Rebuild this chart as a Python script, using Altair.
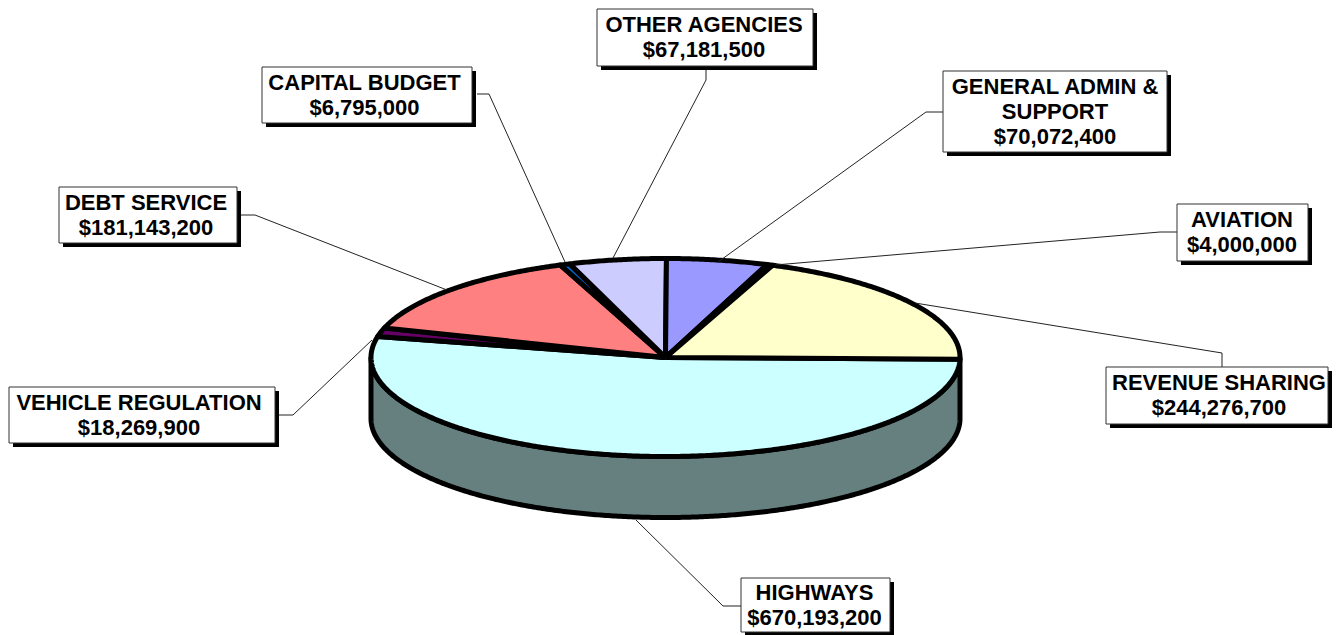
import numpy as np
import pandas as pd
import altair as alt

# ---- data ----
names = ["HIGHWAYS", "VEHICLE REGULATION", "DEBT SERVICE", "CAPITAL BUDGET",
         "OTHER AGENCIES", "GENERAL ADMIN & SUPPORT", "AVIATION", "REVENUE SHARING"]
values = [670193200, 18269900, 181143200, 6795000,
          67181500, 70072400, 4000000, 244276700]
amounts = ["$670,193,200", "$18,269,900", "$181,143,200", "$6,795,000",
           "$67,181,500", "$70,072,400", "$4,000,000", "$244,276,700"]
colors = ["#CCFFFF", "#660066", "#FF8080", "#0066CC",
          "#CCCCFF", "#9999FF", "#993366", "#FFFFCC"]
label_lines = [["HIGHWAYS"], ["VEHICLE REGULATION"], ["DEBT SERVICE"], ["CAPITAL BUDGET"],
               ["OTHER AGENCIES"], ["GENERAL ADMIN &", "SUPPORT"], ["AVIATION"], ["REVENUE SHARING"]]

# ---- layout of the picture, in page pixels ----
CX, CY, RX, RY, DEPTH = 665.5, 357.5, 294.5, 99, 61
START = 1.0
SIDE = "#668080"
# left, top, right, bottom of each label box
boxes = [(741, 578, 890, 632), (9, 387, 275, 443), (59, 187, 237, 243), (262, 67, 472, 123),
         (597, 9, 813, 66), (943, 71, 1167, 152), (1177, 204, 1308, 261), (1106, 367, 1328, 424)]
text_cx = [814.5, 139, 146, 364.5, 704, 1055, 1242, 1219]
leaders = [[(741, 606), (723, 606), (636, 520)],
           [(279, 415), (293, 415), (372, 340)],
           [(241, 215), (255, 215), (447, 290)],
           [(477, 94), (489, 94), (565, 262)],
           [(706, 69), (706, 80), (613, 258)],
           [(943, 112), (926, 112), (718, 262)],
           [(1177, 232), (1160, 232), (775, 265)],
           [(1222, 367), (1222, 353), (915, 303)]]
FONT_SIZE, LINE_H = 22, 25

W, H = 1324, 627
X = alt.Scale(domain=[8, 8 + W], range=[0, W], nice=False, zero=False)
Y = alt.Scale(domain=[8 + H, 8], range=[H, 0], nice=False, zero=False)
xe = lambda f="x": alt.X(f"{f}:Q", scale=X, axis=None)
ye = lambda f="y": alt.Y(f"{f}:Q", scale=Y, axis=None)


def ring(a0, a1, dy=0.0):
    n = max(2, int(abs(a1 - a0)) * 2 + 2)
    t = np.radians(np.linspace(a0, a1, n))
    return list(zip(CX + RX * np.cos(t), CY + RY * np.sin(t) + dy))


def poly(points, color, sw):
    pts = list(points) + [points[0]]
    d = pd.DataFrame({"x": [p[0] for p in pts], "y": [p[1] for p in pts], "i": range(len(pts))})
    return alt.Chart(d).mark_line(fill=color, stroke="black", strokeWidth=sw,
                                  strokeJoin="round", clip=False).encode(
        x=xe(), y=ye(), order="i:Q")


# angles run clockwise on screen from 3 o'clock
angles = START + np.concatenate([[0], np.cumsum(values) / np.sum(values) * 360])
layers = []

# side wall below the front of the disc
layers.append(poly(ring(0, 180) + ring(180, 0, DEPTH), SIDE, 5))

# top faces (Highways first, the rest over it)
for k in range(len(values)):
    layers.append(poly([(CX, CY)] + ring(angles[k], angles[k + 1]), colors[k], 5))

# leader lines
for pts in leaders:
    d = pd.DataFrame({"x": [p[0] for p in pts], "y": [p[1] for p in pts], "i": range(len(pts))})
    layers.append(alt.Chart(d).mark_line(color="#222222", strokeWidth=1).encode(
        x=xe(), y=ye(), order="i:Q"))

# label boxes with hard shadow
bx = pd.DataFrame(boxes, columns=["l", "t", "r", "b"])
bx["ls"], bx["ts"], bx["rs"], bx["bs"] = bx.l + 4, bx.t + 4, bx.r + 4, bx.b + 4
layers.append(alt.Chart(bx).mark_rect(color="black").encode(
    x=xe("ls"), x2="rs:Q", y=ye("ts"), y2="bs:Q"))
layers.append(alt.Chart(bx).mark_rect(fill="white", stroke="#333333", strokeWidth=1).encode(
    x=xe("l"), x2="r:Q", y=ye("t"), y2="b:Q"))

# label text
rows = []
for k, (l, t, r, b) in enumerate(boxes):
    lines = label_lines[k] + [amounts[k]]
    mid = (t + b) / 2
    for j, s in enumerate(lines):
        rows.append({"x": text_cx[k],
                     "y": mid + (j - (len(lines) - 1) / 2) * LINE_H + 7,
                     "s": s})
layers.append(alt.Chart(pd.DataFrame(rows)).mark_text(
    font="Liberation Sans", fontWeight="bold", fontSize=FONT_SIZE, color="black",
    align="center", baseline="alphabetic").encode(x=xe(), y=ye(), text="s:N"))

chart = alt.layer(*layers).properties(
    width=W, height=H, padding=0,
    autosize=alt.AutoSizeParams(type="none"),
).configure_view(stroke=None)

chart.save("out.html", embed_options={"renderer": "svg", "actions": False})
